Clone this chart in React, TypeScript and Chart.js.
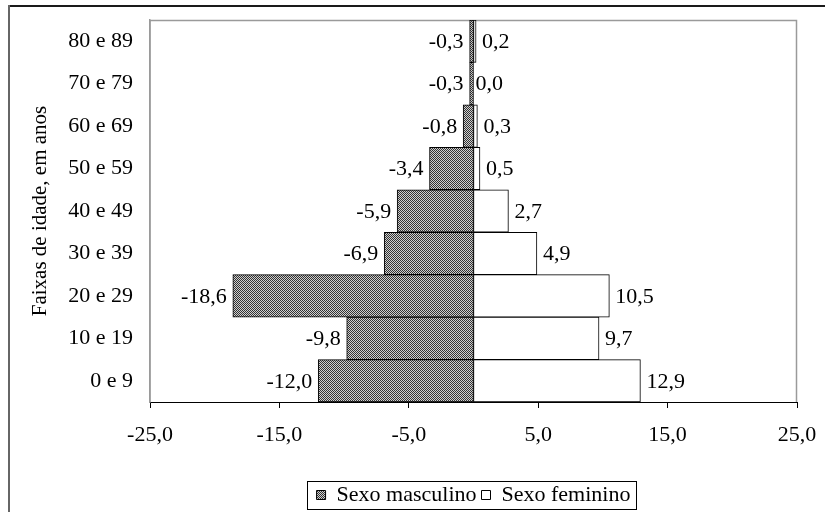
import React, { useEffect, useRef } from "react";
import { Chart, registerables } from "chart.js";

Chart.register(...registerables);

const categories = ["80 e 89", "70 e 79", "60 e 69", "50 e 59", "40 e 49", "30 e 39", "20 e 29", "10 e 19", "0 e 9"];
const maleValues = [-0.3, -0.3, -0.8, -3.4, -5.9, -6.9, -18.6, -9.8, -12.0];
const femaleValues = [0.2, 0.0, 0.3, 0.5, 2.7, 4.9, 10.5, 9.7, 12.9];
const seriesNames = ["Sexo masculino", "Sexo feminino"];
const axisTitle = "Faixas de idade, em anos";
const xMin = -25;
const xMax = 25;
const xStep = 10;

const FONT = "'Liberation Serif', 'Times New Roman', serif";

const fmt = (v: number) => v.toFixed(1).replace(".", ",");

function makePattern(): CanvasPattern | string {
  const c = document.createElement("canvas");
  c.width = 2;
  c.height = 2;
  const g = c.getContext("2d");
  if (!g) return "#777";
  g.fillStyle = "#cfcfcf";
  g.fillRect(0, 0, 2, 2);
  g.fillStyle = "#333";
  g.fillRect(0, 0, 1, 1);
  g.fillRect(1, 1, 1, 1);
  const p = g.createPattern(c, "repeat");
  return p || "#777";
}

export default function App() {
  const ref = useRef<HTMLCanvasElement | null>(null);

  useEffect(() => {
    document.body.style.margin = "0";
    const canvas = ref.current;
    if (!canvas) return;
    const pattern = makePattern();

    const framePlugin = {
      id: "frame",
      beforeDraw(chart: any) {
        const { ctx, width, height } = chart;
        ctx.save();
        ctx.fillStyle = "#fff";
        ctx.fillRect(0, 0, width, height);
        ctx.fillStyle = "#1a1a1a";
        ctx.fillRect(9, 5, width - 9, 2);
        ctx.fillStyle = "#666";
        ctx.fillRect(8, 5, 2, height - 5);
        ctx.restore();
      },
      beforeDatasetsDraw(chart: any) {
        const { ctx, chartArea: a } = chart;
        ctx.save();
        ctx.strokeStyle = "#9a9a9a";
        ctx.lineWidth = 1.5;
        ctx.beginPath();
        ctx.moveTo(a.left, a.bottom);
        ctx.lineTo(a.left, a.top + 0.5);
        ctx.lineTo(a.right - 0.5, a.top + 0.5);
        ctx.lineTo(a.right - 0.5, a.bottom);
        ctx.stroke();
        ctx.restore();
      },
      afterDatasetsDraw(chart: any) {
        const { ctx } = chart;
        ctx.save();
        ctx.font = `22px ${FONT}`;
        ctx.fillStyle = "#000";
        ctx.textBaseline = "middle";
        chart.data.datasets.forEach((ds: any, i: number) => {
          const meta = chart.getDatasetMeta(i);
          meta.data.forEach((bar: any, j: number) => {
            const v = ds.data[j] as number;
            const neg = v < 0;
            ctx.textAlign = neg ? "right" : "left";
            ctx.fillText(fmt(v), bar.x + (neg ? -6 : 6), bar.y + 1);
          });
        });
        ctx.restore();
      },
      afterDraw(chart: any) {
        const lg = chart.legend;
        if (!lg || !lg.legendHitBoxes || !lg.legendHitBoxes.length) return;
        const hb = lg.legendHitBoxes;
        const first = hb[0];
        const last = hb[hb.length - 1];
        const { ctx } = chart;
        ctx.save();
        ctx.strokeStyle = "#000";
        ctx.lineWidth = 1;
        const l = Math.round(first.left - 10) + 0.5;
        const r = Math.round(last.left + last.width + 6) + 0.5;
        const t = Math.round(first.top - 3) + 0.5;
        const b = Math.round(first.top + first.height + 3) + 0.5;
        ctx.strokeRect(l, t, r - l, b - t);
        ctx.restore();
      },
    };

    const chart = new Chart(canvas, {
      type: "bar",
      data: {
        labels: categories,
        datasets: [
          {
            label: seriesNames[0],
            data: maleValues,
            backgroundColor: pattern as any,
            borderColor: "#000",
            borderWidth: 1,
            borderSkipped: false,
          },
          {
            label: seriesNames[1],
            data: femaleValues,
            backgroundColor: "#fff",
            borderColor: "#000",
            borderWidth: 1,
            borderSkipped: false,
          },
        ],
      },
      options: {
        indexAxis: "y",
        responsive: false,
        animation: false,
        devicePixelRatio: 1,
        layout: { padding: { top: 20, right: 28, left: 0, bottom: 0 } },
        datasets: { bar: { barPercentage: 1, categoryPercentage: 1 } },
        plugins: {
          tooltip: { enabled: false },
          legend: {
            position: "bottom",
            fullSize: false,
            maxHeight: 33,
            labels: {
              color: "#000",
              font: { family: FONT, size: 22 },
              boxWidth: 9,
              boxHeight: 9,
              padding: 5,
            },
          },
        },
        scales: {
          x: {
            stacked: true,
            min: xMin,
            max: xMax,
            ticks: {
              stepSize: xStep,
              color: "#000",
              font: { family: FONT, size: 22 },
              padding: 14,
              maxRotation: 0,
              callback: (v: any) => fmt(Number(v)),
            },
            grid: { display: true, drawOnChartArea: false, drawTicks: true, tickLength: 6, color: "#000" },
            border: { display: true, color: "#000", width: 1 },
            afterFit: (s: any) => {
              s.height = 77;
              s.paddingLeft = 0;
              s.paddingRight = 0;
            },
          },
          y: {
            stacked: true,
            ticks: { color: "#000", font: { family: FONT, size: 22 }, padding: 17 },
            grid: { display: false, drawTicks: false },
            border: { display: true, color: "#9a9a9a", width: 1.5 },
            title: {
              display: true,
              text: axisTitle,
              color: "#000",
              font: { family: FONT, size: 21 },
              padding: { top: 28, bottom: 0 },
            },
            afterFit: (s: any) => {
              s.width = 150;
              s.paddingTop = 0;
              s.paddingBottom = 0;
            },
          },
        },
      },
      plugins: [framePlugin],
    });

    return () => chart.destroy();
  }, []);

  return (
    <div style={{ width: 825, height: 512 }}>
      <canvas ref={ref} width={825} height={512} style={{ display: "block" }} />
    </div>
  );
}
